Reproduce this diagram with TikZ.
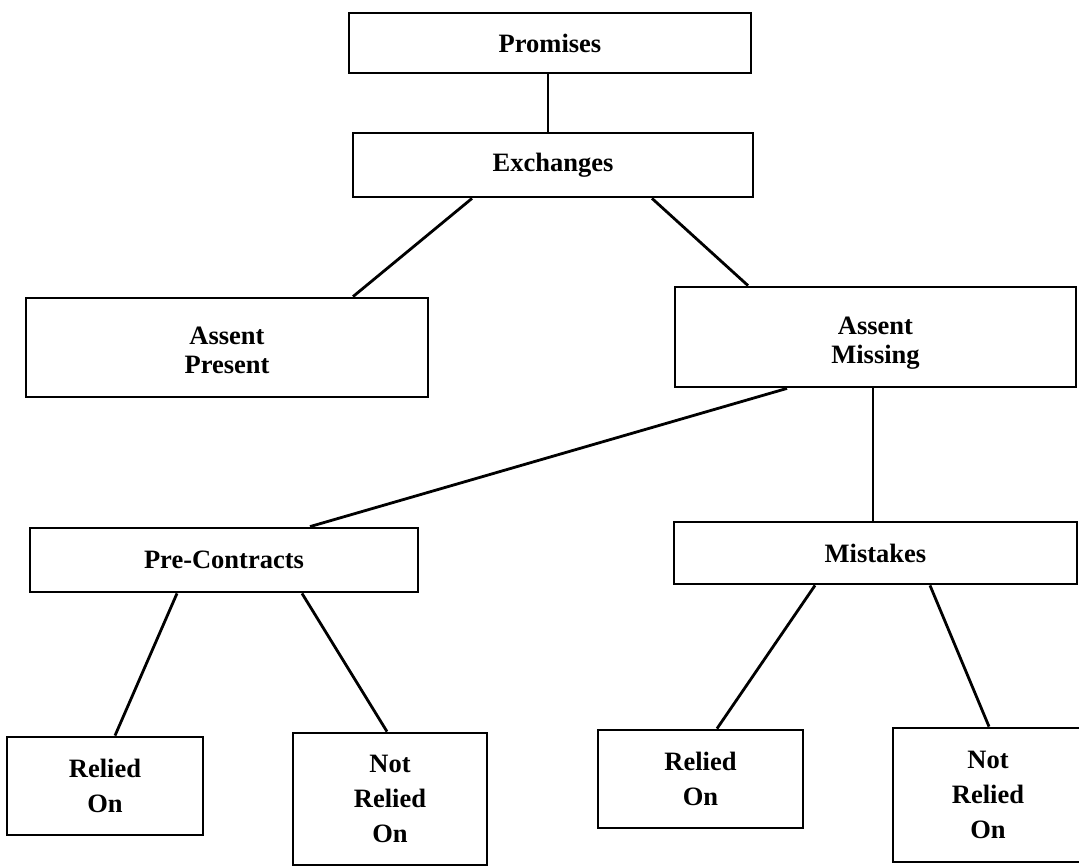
\documentclass[tikz,border=0pt]{standalone}
\usepackage{fontspec}
\setmainfont{Liberation Serif}
\begin{document}
\begin{tikzpicture}[x=1pt,y=-1pt,
  box/.style={draw, line width=2.8pt, inner sep=0pt, align=center,
    font=\fontsize{26.5}{29}\selectfont\bfseries},
  tall/.style={font=\fontsize{26.5}{35}\selectfont\bfseries},
  link/.style={line width=2.8pt}]
\useasboundingbox (0,0) rectangle (1079,866);

% top of the tree
\node[box, minimum width=402pt, minimum height=60pt] (prom) at (550,43) {Promises};
\node[box, minimum width=400pt, minimum height=64pt] (exch) at (553,165) {Exchanges};

% assent level (two-line labels sit a little low in their boxes)
\node[box, minimum width=402pt, minimum height=99pt] (ap) at (227,347.5)
  {\raisebox{-6pt}[\height][\depth]{\begin{tabular}{@{}c@{}}Assent\\Present\end{tabular}}};
\node[box, minimum width=401pt, minimum height=100pt] (am) at (875.5,337)
  {\raisebox{-6pt}[\height][\depth]{\begin{tabular}{@{}c@{}}Assent\\Missing\end{tabular}}};

% categories without assent
\node[box, minimum width=388pt, minimum height=64pt] (pc) at (224,560) {Pre-Contracts};
\node[box, minimum width=403pt, minimum height=62pt] (mist) at (875.5,553) {Mistakes};

% reliance leaves
\node[box, tall, minimum width=196pt, minimum height=98pt] (r1) at (105,786) {Relied\\On};
\node[box, tall, minimum width=194pt, minimum height=132pt] (n1) at (390,799) {Not\\Relied\\On};
\node[box, tall, minimum width=205pt, minimum height=98pt] (r2) at (700.5,779) {Relied\\On};
\node[box, tall, minimum width=190pt, minimum height=134pt] (n2) at (988,795) {Not\\Relied\\On};

% connectors
\draw[link] ([xshift=-2pt]prom.south) -- ([xshift=-5pt]exch.north);
\draw[link] ([xshift=-81pt]exch.south) -- ([xshift=126pt]ap.north);
\draw[link] ([xshift=99pt]exch.south) -- ([xshift=-127.5pt]am.north);
\draw[link] ([xshift=-88.5pt]am.south) -- ([xshift=86pt]pc.north);
\draw[link] ([xshift=-2.5pt]am.south) -- ([xshift=-2.5pt]mist.north);
\draw[link] ([xshift=-47pt]pc.south) -- ([xshift=10pt]r1.north);
\draw[link] ([xshift=78pt]pc.south) -- ([xshift=-3pt]n1.north);
\draw[link] ([xshift=-60.5pt]mist.south) -- ([xshift=16.5pt]r2.north);
\draw[link] ([xshift=54.5pt]mist.south) -- ([xshift=1pt]n2.north);
\end{tikzpicture}
\end{document}
